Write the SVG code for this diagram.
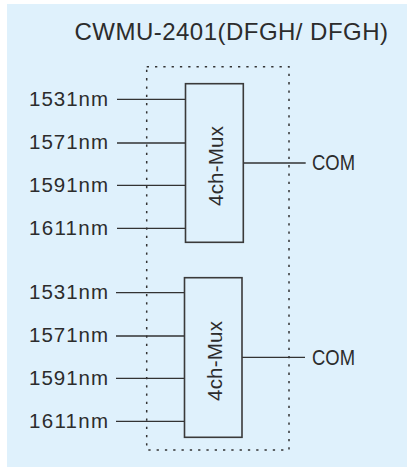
<svg xmlns="http://www.w3.org/2000/svg" width="407" height="467" viewBox="0 0 407 467">
<style>
.t{font-family:"Liberation Sans",Arial,sans-serif;fill:#2c2c2c;font-size:20.5px}
.ti{font-size:24px}
.com{font-size:21.5px}
.mux{font-size:20.5px}
.ln{stroke:#333;stroke-width:1.3;fill:none}
.box{fill:none;stroke:#3a3a3a;stroke-width:1.6}
.dash{fill:none;stroke:#333;stroke-width:1.5;stroke-dasharray:2.3 6}
</style>
<rect x="7" y="4" width="400" height="463" fill="#dff1fc"/>
<g id="title"><text class="t ti" x="74.5" y="40" textLength="313.5" lengthAdjust="spacing">CWMU-2401(DFGH/ DFGH)</text></g>
<g id="enclosure"><rect class="dash" x="146.7" y="66.7" width="142.3" height="383.3"/></g>
<g id="connectors">
<path class="ln" d="M117 99.3H185.5M117 143H185.5M117 185.3H185.5M117 228.3H185.5M243.3 163H305.7"/>
<path class="ln" d="M116 292.7H184.5M116 336H184.5M116 378.3H184.5M116 421.3H184.5M242 357.3H305"/>
</g>
<g id="mux1">
<rect class="box" x="185.5" y="83.7" width="57.8" height="158.6"/>
<text class="t mux" transform="translate(222.8 166) rotate(-90)" x="0" y="0" text-anchor="middle" textLength="80" lengthAdjust="spacing">4ch-Mux</text>
</g>
<g id="mux2">
<rect class="box" x="184.5" y="277.7" width="57.5" height="159.6"/>
<text class="t mux" transform="translate(221.5 361) rotate(-90)" x="0" y="0" text-anchor="middle" textLength="80" lengthAdjust="spacing">4ch-Mux</text>
</g>
<g id="labels1">
<text class="t" x="29" y="105.5" textLength="79" lengthAdjust="spacing">1531nm</text>
<text class="t" x="29" y="149" textLength="79" lengthAdjust="spacing">1571nm</text>
<text class="t" x="29" y="191.5" textLength="79" lengthAdjust="spacing">1591nm</text>
<text class="t" x="29" y="234.5" textLength="79" lengthAdjust="spacing">1611nm</text>
<text class="t com" x="312" y="170" textLength="43" lengthAdjust="spacingAndGlyphs">COM</text>
</g>
<g id="labels2">
<text class="t" x="29" y="299" textLength="79" lengthAdjust="spacing">1531nm</text>
<text class="t" x="29" y="342" textLength="79" lengthAdjust="spacing">1571nm</text>
<text class="t" x="29" y="384.5" textLength="79" lengthAdjust="spacing">1591nm</text>
<text class="t" x="29" y="427.5" textLength="79" lengthAdjust="spacing">1611nm</text>
<text class="t com" x="312" y="364.5" textLength="43" lengthAdjust="spacingAndGlyphs">COM</text>
</g>
</svg>
